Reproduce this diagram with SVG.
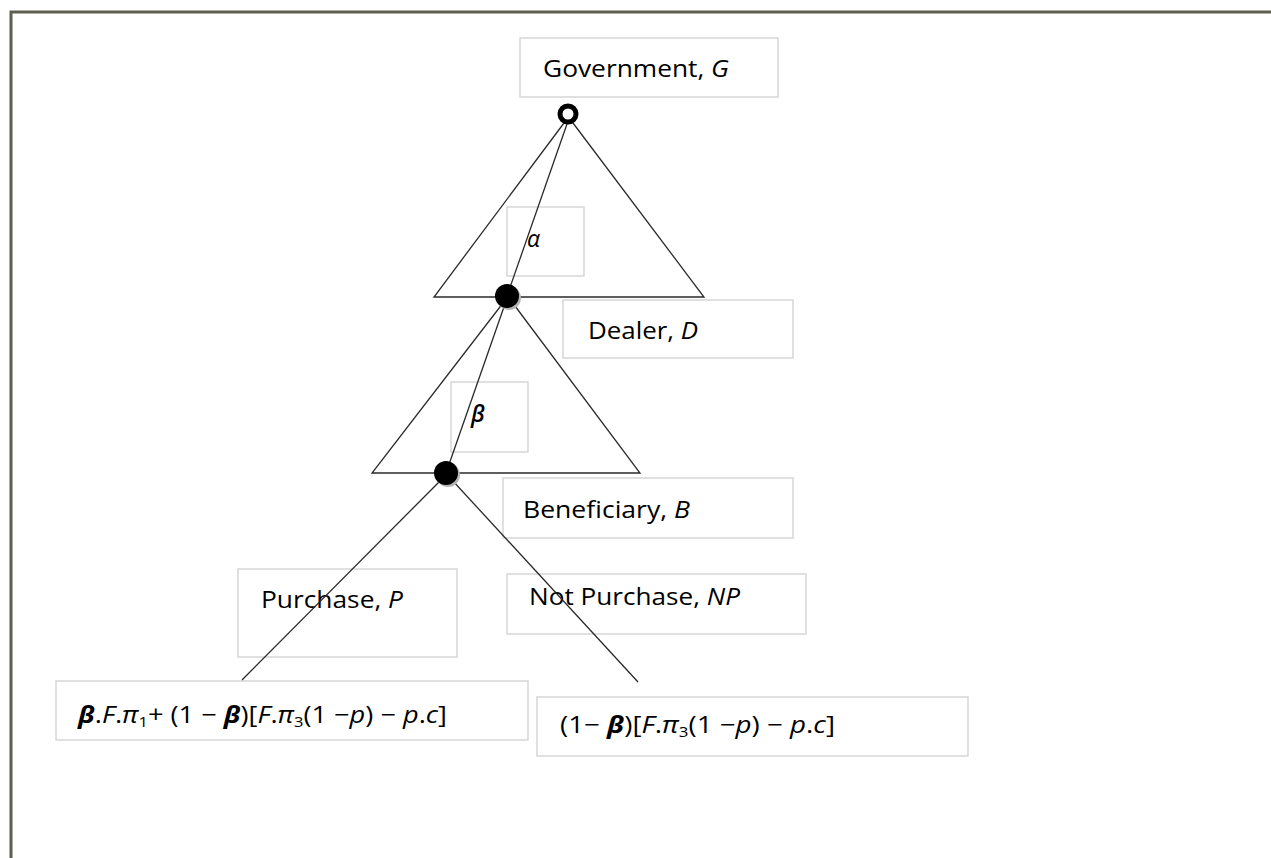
<svg xmlns="http://www.w3.org/2000/svg" width="1271" height="858" viewBox="0 0 1271 858">
<style>
.box{fill:#fff;stroke:#d6d6d6;stroke-width:1.5}
.lbl{font-family:"Open Sans","Liberation Sans",sans-serif;font-size:23px;fill:#000}
.it{font-style:italic}
.b{font-weight:bold}
.edge{stroke:#2a2a2a;stroke-width:1.3;fill:none}
.sub{font-size:14px}
</style>
<rect x="0" y="0" width="1271" height="858" fill="#fff"/>
<path d="M11,858 L11,12 L1271,12" fill="none" stroke="#5e5e4e" stroke-width="3"/>
<g id="gov-label"><rect class="box" x="520" y="38" width="258" height="59"/><text class="lbl" x="543" y="77" textLength="186" lengthAdjust="spacingAndGlyphs">Government, <tspan class="it">G</tspan></text></g>
<g id="alpha-label"><rect class="box" x="507" y="207" width="77" height="69"/><text class="lbl it" x="527" y="247" font-size="23">α</text></g>
<g id="dealer-label"><rect class="box" x="563" y="300" width="230" height="58"/><text class="lbl" x="588" y="339" textLength="110" lengthAdjust="spacingAndGlyphs">Dealer, <tspan class="it">D</tspan></text></g>
<g id="beta-label"><rect class="box" x="451" y="382" width="77" height="70"/><text class="lbl it" x="471" y="422" font-size="26" font-weight="600">β</text></g>
<g id="beneficiary-label"><rect class="box" x="503" y="478" width="290" height="60"/><text class="lbl" x="523" y="518" textLength="167" lengthAdjust="spacingAndGlyphs">Beneficiary, <tspan class="it">B</tspan></text></g>
<g id="purchase-label"><rect class="box" x="238" y="569" width="219" height="88"/><text class="lbl" x="261" y="608" textLength="142" lengthAdjust="spacingAndGlyphs">Purchase, <tspan class="it">P</tspan></text></g>
<g id="notpurchase-label"><rect class="box" x="507" y="574" width="299" height="60"/><text class="lbl" x="529" y="605" textLength="211" lengthAdjust="spacingAndGlyphs">Not Purchase, <tspan class="it">NP</tspan></text></g>
<g id="payoff-P"><rect class="box" x="56" y="681" width="472" height="59"/><text class="lbl" x="78" y="723" textLength="369" lengthAdjust="spacingAndGlyphs"><tspan class="it b">β</tspan>.<tspan class="it">F</tspan>.<tspan class="it">π</tspan><tspan class="sub" dy="4">1</tspan><tspan dy="-4">+ (1 − </tspan><tspan class="it b">β</tspan>)[<tspan class="it">F</tspan>.<tspan class="it">π</tspan><tspan class="sub" dy="4">3</tspan><tspan dy="-4">(1 −</tspan><tspan class="it">p</tspan>) − <tspan class="it">p</tspan>.<tspan class="it">c</tspan>]</text></g>
<g id="payoff-NP"><rect class="box" x="537" y="697" width="431" height="59"/><text class="lbl" x="560" y="733" textLength="275" lengthAdjust="spacingAndGlyphs">(1− <tspan class="it b">β</tspan>)[<tspan class="it">F</tspan>.<tspan class="it">π</tspan><tspan class="sub" dy="4">3</tspan><tspan dy="-4">(1 −</tspan><tspan class="it">p</tspan>) − <tspan class="it">p</tspan>.<tspan class="it">c</tspan>]</text></g>
<g id="connectors">
<path class="edge" d="M564,123 L434,297 L704,297 L573,123"/>
<path class="edge" d="M567,124 L507,296"/>
<path class="edge" d="M503,303 L372,473 L640,473 L512,302"/>
<path class="edge" d="M505,304 L446,473"/>
<path class="edge" d="M441,480 L242,680"/>
<path class="edge" d="M452,480 L638,682"/>
</g>
<g id="node-G"><circle cx="568" cy="114" r="8" fill="#fff" stroke="#000" stroke-width="5"/></g>
<g id="node-D"><circle cx="509" cy="298" r="12" fill="#b5b5b5"/><circle cx="507" cy="296" r="12" fill="#000"/></g>
<g id="node-B"><circle cx="448" cy="475" r="12" fill="#b5b5b5"/><circle cx="446" cy="473" r="12" fill="#000"/></g>
</svg>
